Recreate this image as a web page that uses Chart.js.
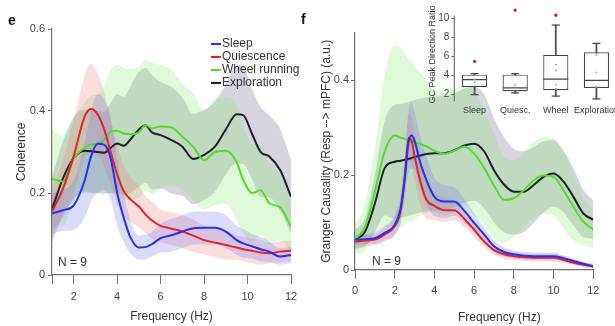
<!DOCTYPE html>
<html lang="en">
<head>
<meta charset="UTF-8">
<title>Coherence and Granger causality</title>
<script src="https://cdn.jsdelivr.net/npm/chart.js"></script>
<style>
  body { margin: 0; width: 615px; height: 326px; overflow: hidden; position: relative; background: #fff;
         font-family: "Liberation Sans", Arial, sans-serif; color: #333; }
  .pane { position: absolute; }
  .txt { position: absolute; white-space: nowrap; font-size: 12px; line-height: 14px; color: #333; }
  .tag { position: absolute; font-size: 14px; font-weight: bold; line-height: 14px; color: #111; }
  .legend { position: absolute; left: 211px; top: 36px; }
  .legend div { position: absolute; left: 0; white-space: nowrap; font-size: 12px; line-height: 14px; color: #333; }
  .legend span { display: inline-block; width: 10px; height: 2px; vertical-align: middle; margin-right: 1px; }
</style>
</head>
<body>

  <div class="pane" style="left:0; top:0; width:300px;"><canvas id="chartE" width="300" height="326"></canvas></div>
  <div class="pane" style="left:300px; top:0; width:315px;"><canvas id="chartF" width="315" height="326"></canvas></div>
  <div class="pane" style="left:420px; top:0; width:200px;"><canvas id="chartBox" width="200" height="120"></canvas></div>

  <div class="tag" style="left:8px; top:13px;">e</div>
  <div class="tag" style="left:301px; top:12px;">f</div>
  <div class="txt" style="left:58px; top:255px;">N = 9</div>
  <div class="txt" style="left:372px; top:254px;">N = 9</div>
  <div class="txt" style="left:458px; top:310px;">Frequency (Hz)</div>

  <div class="legend">
    <div style="top:0px"><span style="background:rgb(35,50,230)"></span>Sleep</div>
    <div style="top:13px"><span style="background:rgb(225,35,40)"></span>Quiescence</div>
    <div style="top:26px"><span style="background:rgb(80,220,40)"></span>Wheel running</div>
    <div style="top:39px"><span style="background:rgb(30,30,45)"></span>Exploration</div>
  </div>

  <script>
    /* Panel e: coherence, mean and half band width per state. */
    const freqE = [1, 1.5, 2, 2.5, 2.8, 3.1, 3.4, 3.7, 4, 4.3, 4.6, 5, 5.3, 5.6, 6, 6.5, 7, 7.5, 8, 8.5, 9, 9.5, 9.8, 10.2, 10.6, 11, 11.5, 12]
    const sleepE = [0.150, 0.158, 0.170, 0.230, 0.290, 0.320, 0.318, 0.285, 0.200, 0.140, 0.093, 0.067, 0.068, 0.075, 0.090, 0.097, 0.106, 0.114, 0.115, 0.115, 0.106, 0.085, 0.077, 0.070, 0.063, 0.057, 0.045, 0.049]
    const quietE = [0.155, 0.210, 0.290, 0.386, 0.405, 0.392, 0.355, 0.300, 0.245, 0.205, 0.185, 0.167, 0.148, 0.133, 0.120, 0.113, 0.106, 0.096, 0.085, 0.079, 0.073, 0.067, 0.063, 0.059, 0.055, 0.053, 0.057, 0.059]
    const wheelE = [0.235, 0.228, 0.285, 0.310, 0.318, 0.320, 0.330, 0.350, 0.352, 0.345, 0.343, 0.348, 0.365, 0.358, 0.362, 0.360, 0.337, 0.313, 0.280, 0.300, 0.303, 0.275, 0.232, 0.200, 0.207, 0.175, 0.165, 0.118]
    const exploE = [0.160, 0.235, 0.285, 0.303, 0.302, 0.300, 0.298, 0.310, 0.321, 0.315, 0.330, 0.355, 0.365, 0.348, 0.341, 0.329, 0.313, 0.283, 0.293, 0.313, 0.355, 0.392, 0.390, 0.345, 0.300, 0.289, 0.256, 0.191]
    const sleepSdE = [0.05, 0.05, 0.06, 0.09, 0.11, 0.12, 0.11, 0.10, 0.08, 0.06, 0.04, 0.03, 0.03, 0.03, 0.035, 0.04, 0.04, 0.04, 0.04, 0.04, 0.04, 0.035, 0.035, 0.03, 0.03, 0.025, 0.02, 0.02]
    const quietSdE = [0.05, 0.07, 0.09, 0.10, 0.11, 0.10, 0.09, 0.08, 0.07, 0.06, 0.055, 0.05, 0.045, 0.045, 0.04, 0.04, 0.04, 0.04, 0.035, 0.035, 0.035, 0.03, 0.03, 0.03, 0.03, 0.025, 0.025, 0.025]
    const wheelSdE = [0.12, 0.11, 0.10, 0.11, 0.12, 0.12, 0.13, 0.15, 0.16, 0.16, 0.16, 0.16, 0.16, 0.16, 0.15, 0.14, 0.13, 0.13, 0.12, 0.13, 0.13, 0.14, 0.13, 0.12, 0.11, 0.10, 0.08, 0.06]
    const exploSdE = [0.08, 0.09, 0.10, 0.10, 0.10, 0.10, 0.10, 0.11, 0.12, 0.12, 0.13, 0.14, 0.14, 0.14, 0.13, 0.13, 0.12, 0.11, 0.11, 0.11, 0.11, 0.12, 0.12, 0.11, 0.11, 0.10, 0.10, 0.09]
    const xTicksE = [1, 2, 4, 6, 8, 10, 12]
    const yTicksE = [0, 0.2, 0.4, 0.6]

    /* Panel f: Granger causality, mean and half band width per state. */
    const freqF = [0, 0.5, 1, 1.5, 2, 2.3, 2.5, 2.7, 2.85, 3, 3.3, 3.6, 4, 4.5, 5, 5.5, 6, 6.5, 7, 7.5, 8, 8.5, 9, 9.5, 10, 10.5, 11, 11.5, 12]
    const sleepF = [0.064, 0.065, 0.067, 0.078, 0.095, 0.130, 0.190, 0.270, 0.283, 0.272, 0.224, 0.189, 0.154, 0.144, 0.144, 0.125, 0.099, 0.075, 0.050, 0.038, 0.033, 0.030, 0.029, 0.029, 0.029, 0.025, 0.019, 0.013, 0.008]
    const quietF = [0.060, 0.062, 0.064, 0.075, 0.092, 0.125, 0.195, 0.278, 0.272, 0.240, 0.185, 0.148, 0.135, 0.126, 0.126, 0.108, 0.085, 0.060, 0.042, 0.033, 0.029, 0.027, 0.026, 0.026, 0.026, 0.021, 0.015, 0.011, 0.008]
    const wheelF = [0.064, 0.090, 0.165, 0.250, 0.283, 0.279, 0.276, 0.273, 0.271, 0.269, 0.265, 0.260, 0.251, 0.245, 0.251, 0.260, 0.245, 0.215, 0.178, 0.148, 0.151, 0.168, 0.189, 0.199, 0.196, 0.168, 0.133, 0.102, 0.085]
    const exploF = [0.064, 0.080, 0.140, 0.215, 0.228, 0.230, 0.232, 0.234, 0.236, 0.238, 0.241, 0.244, 0.246, 0.246, 0.252, 0.262, 0.266, 0.250, 0.210, 0.180, 0.165, 0.165, 0.179, 0.196, 0.203, 0.186, 0.154, 0.119, 0.106]
    const sleepSdF = [0.010, 0.010, 0.012, 0.015, 0.020, 0.030, 0.040, 0.065, 0.070, 0.060, 0.055, 0.050, 0.040, 0.035, 0.030, 0.025, 0.020, 0.015, 0.012, 0.010, 0.008, 0.008, 0.008, 0.008, 0.008, 0.006, 0.005, 0.005, 0.005]
    const quietSdF = [0.012, 0.012, 0.012, 0.015, 0.020, 0.025, 0.035, 0.050, 0.050, 0.050, 0.050, 0.040, 0.030, 0.025, 0.020, 0.018, 0.015, 0.012, 0.010, 0.010, 0.008, 0.008, 0.008, 0.008, 0.008, 0.006, 0.005, 0.005, 0.005]
    const wheelSdF = [0.03, 0.05, 0.09, 0.16, 0.19, 0.19, 0.18, 0.17, 0.17, 0.16, 0.15, 0.14, 0.13, 0.13, 0.13, 0.13, 0.13, 0.12, 0.11, 0.09, 0.08, 0.08, 0.08, 0.08, 0.08, 0.08, 0.07, 0.05, 0.04]
    const exploSdF = [0.02, 0.03, 0.06, 0.10, 0.12, 0.12, 0.12, 0.12, 0.12, 0.12, 0.12, 0.12, 0.12, 0.12, 0.12, 0.12, 0.12, 0.12, 0.11, 0.10, 0.09, 0.085, 0.08, 0.075, 0.07, 0.065, 0.06, 0.05, 0.04]
    const xTicksF = [0, 2, 4, 6, 8, 10, 12]
    const yTicksF = [0, 0.2, 0.4]

    /* Inset: GC peak direction ratio box plots. */
    const boxLabels = ["Sleep", "Quiesc.", "Wheel", "Exploration"]
    const boxMin = [2.0, 2.17, 1.83, 1.55]
    const boxQ1 = [2.8, 2.35, 2.45, 2.7]
    const boxMedian = [3.57, 2.7, 3.63, 3.5]
    const boxQ3 = [4.09, 4.09, 6.17, 6.45]
    const boxMax = [4.19, 4.19, 9.3, 7.39]
    const outlierLabels = ["Sleep", "Quiesc.", "Wheel"]
    const outlierValues = [5.48, 10.87, 10.35]
    const dotLabels = ["Sleep", "Sleep", "Quiesc.", "Wheel", "Wheel", "Wheel", "Wheel", "Exploration", "Exploration", "Exploration"]
    const dotValues = [3.6, 3.3, 3.04, 5.13, 4.54, 3.04, 2.6, 6.17, 4.33, 2.8]
    const yTicksBox = [2, 4, 6, 8, 10]
    const axisTopBox = 10.3

    /* Colours. */
    const lineColors = ["rgb(35,50,230)", "rgb(225,35,40)", "rgb(80,220,40)", "rgb(30,30,45)"]
    const bandColors = ["rgba(115,115,240,0.26)", "rgba(240,120,120,0.25)", "rgba(130,235,105,0.26)", "rgba(85,75,115,0.24)"]
    const axisColor = "#707070"

    Chart.defaults.font.family = '"Liberation Sans", Arial, sans-serif'
    Chart.defaults.color = "#444"

    /* Build band (upper, lower) and mean line datasets for a panel. */
    const buildSets = (xs, means, sds) => {
      const sets = []
      means.forEach((mean, k) => {
        sets.push({
          data: xs.map((x, i) => ({x: x, y: mean[i] + sds[k][i]})),
          borderWidth: 0, pointRadius: 0, fill: "+1", backgroundColor: bandColors[k],
          cubicInterpolationMode: "monotone", order: 5
        })
        sets.push({
          data: xs.map((x, i) => ({x: x, y: mean[i] - sds[k][i]})),
          borderWidth: 0, pointRadius: 0, fill: false,
          cubicInterpolationMode: "monotone", order: 5
        })
      })
      means.forEach((mean, k) => {
        sets.push({
          data: xs.map((x, i) => ({x: x, y: mean[i]})),
          borderColor: lineColors[k], borderWidth: 2, pointRadius: 0, fill: false,
          cubicInterpolationMode: "monotone", order: 1
        })
      })
      return sets
    }

    const grid = (len) => ({display: true, drawOnChartArea: false, drawTicks: true, tickLength: len, color: axisColor})
    const border = {display: true, color: axisColor, width: 1.2}

    /* Fixed x axis height, and no extra side room for the end labels. */
    const fitX = (h) => s => { s.height = h; s.paddingLeft = 0; s.paddingRight = 0 }

    /* Inset y axis line stops at axisTopBox, the outliers sit above it. */
    const insetAxis = {
      id: "insetAxis",
      afterDraw(chart) {
        const {ctx, chartArea, scales} = chart
        ctx.save()
        ctx.strokeStyle = axisColor
        ctx.lineWidth = 1.2
        ctx.beginPath()
        ctx.moveTo(chartArea.left, scales.y.getPixelForValue(axisTopBox))
        ctx.lineTo(chartArea.left, chartArea.bottom)
        ctx.stroke()
        ctx.restore()
      }
    }

    /* Panel e. */
    new Chart(document.getElementById("chartE").getContext("2d"), {
      type: "line",
      data: {datasets: buildSets(freqE, [sleepE, quietE, wheelE, exploE], [sleepSdE, quietSdE, wheelSdE, exploSdE])},
      options: {
        responsive: false, animation: false, devicePixelRatio: 1,
        layout: {autoPadding: false, padding: {left: 0, top: 29, right: 9, bottom: 0}},
        plugins: {legend: {display: false}, tooltip: {enabled: false}},
        scales: {
          x: {
            type: "linear", min: 1, max: 12,
            afterBuildTicks: s => { s.ticks = xTicksE.map(v => ({value: v})) },
            afterFit: fitX(51),
            ticks: {callback: v => v === 1 ? "" : v, font: {size: 11}, padding: 6, maxRotation: 0, autoSkip: false},
            grid: grid(9), border: border,
            title: {display: true, text: "Frequency (Hz)", font: {size: 12}, color: "#333", padding: {top: 0, bottom: 2}}
          },
          y: {
            min: 0, max: 0.6,
            afterBuildTicks: s => { s.ticks = yTicksE.map(v => ({value: v})) },
            afterFit: s => { s.width = 52 },
            ticks: {callback: v => v === 0 ? "0" : v.toFixed(1), font: {size: 11}, padding: 3},
            grid: grid(4), border: border,
            title: {display: true, text: "Coherence", font: {size: 12}, color: "#333", padding: {top: 14, bottom: 0}}
          }
        }
      }
    })

    /* Panel f. */
    new Chart(document.getElementById("chartF").getContext("2d"), {
      type: "line",
      data: {datasets: buildSets(freqF, [sleepF, quietF, wheelF, exploF], [sleepSdF, quietSdF, wheelSdF, exploSdF])},
      options: {
        responsive: false, animation: false, devicePixelRatio: 1,
        layout: {autoPadding: false, padding: {left: 0, top: 32.5, right: 21.7, bottom: 0}},
        plugins: {legend: {display: false}, tooltip: {enabled: false}},
        scales: {
          x: {
            type: "linear", min: 0, max: 12,
            afterBuildTicks: s => { s.ticks = xTicksF.map(v => ({value: v})) },
            afterFit: fitX(56),
            ticks: {font: {size: 11}, padding: 5, maxRotation: 0, autoSkip: false},
            grid: grid(9), border: border
          },
          y: {
            min: 0, max: 0.5,
            afterBuildTicks: s => { s.ticks = yTicksF.map(v => ({value: v})) },
            afterFit: s => { s.width = 55 },
            ticks: {callback: v => v === 0 ? "0" : v.toFixed(1), font: {size: 11}, padding: 2},
            grid: grid(4), border: border,
            title: {display: true, text: "Granger Causality (Resp --> mPFC) (a.u.)", font: {size: 12}, color: "#333", padding: {top: 19, bottom: 0}}
          }
        }
      }
    })

    /* Inset box plots. */
    new Chart(document.getElementById("chartBox").getContext("2d"), {
      type: "bar",
      data: {
        labels: boxLabels,
        datasets: [{
          type: "bar", data: boxMin.map((v, i) => [v, boxMax[i]]),
          backgroundColor: "#555", barThickness: 1.2, grouped: false, order: 4
        }, {
          type: "bar", data: boxQ1.map((v, i) => [v, boxQ3[i]]),
          backgroundColor: "#fff", borderColor: "#444", borderWidth: 1.2, borderSkipped: false,
          barPercentage: 1, categoryPercentage: 0.62, grouped: false, order: 3
        }, {
          type: "line", showLine: false,
          data: boxLabels.flatMap((l, i) => [{x: l, y: boxMin[i]}, {x: l, y: boxMax[i]}]),
          pointStyle: "line", pointRadius: 4, pointBorderColor: "#444", pointBorderWidth: 1.2, order: 2
        }, {
          type: "line", showLine: false,
          data: boxLabels.map((l, i) => ({x: l, y: boxMedian[i]})),
          pointStyle: "line", pointRadius: 12.5, pointBorderColor: "#444", pointBorderWidth: 1.2, order: 2
        }, {
          type: "line", showLine: false,
          data: dotLabels.map((l, i) => ({x: l, y: dotValues[i]})),
          pointRadius: 1, pointBackgroundColor: "#aaa", pointBorderWidth: 0, order: 1
        }, {
          type: "line", showLine: false,
          data: outlierLabels.map((l, i) => ({x: l, y: outlierValues[i]})),
          pointRadius: 1.6, pointBackgroundColor: "rgb(215,30,40)", pointBorderWidth: 0, order: 0
        }]
      },
      options: {
        responsive: false, animation: false, devicePixelRatio: 1,
        layout: {autoPadding: false, padding: {left: 0, top: 7.5, right: 3.3, bottom: 0}},
        plugins: {legend: {display: false}, tooltip: {enabled: false}},
        scales: {
          x: {
            type: "category", offset: true,
            afterFit: fitX(18.8),
            ticks: {font: {size: 9}, color: "#333", padding: 4, maxRotation: 0, autoSkip: false},
            grid: {display: false, drawTicks: false}, border: {display: false}
          },
          y: {
            min: 1.3, max: 11.1,
            afterBuildTicks: s => { s.ticks = yTicksBox.map(v => ({value: v})) },
            afterFit: s => { s.width = 34.3 },
            ticks: {font: {size: 10}, padding: 2},
            grid: {display: true, drawOnChartArea: false, drawTicks: true, tickLength: 3, color: axisColor},
            border: {display: false},
            title: {display: true, text: "GC Peak Direction Ratio", font: {size: 9}, color: "#333", padding: {top: 7, bottom: 0}}
          }
        }
      },
      plugins: [insetAxis]
    })
  </script>

</body>
</html>
